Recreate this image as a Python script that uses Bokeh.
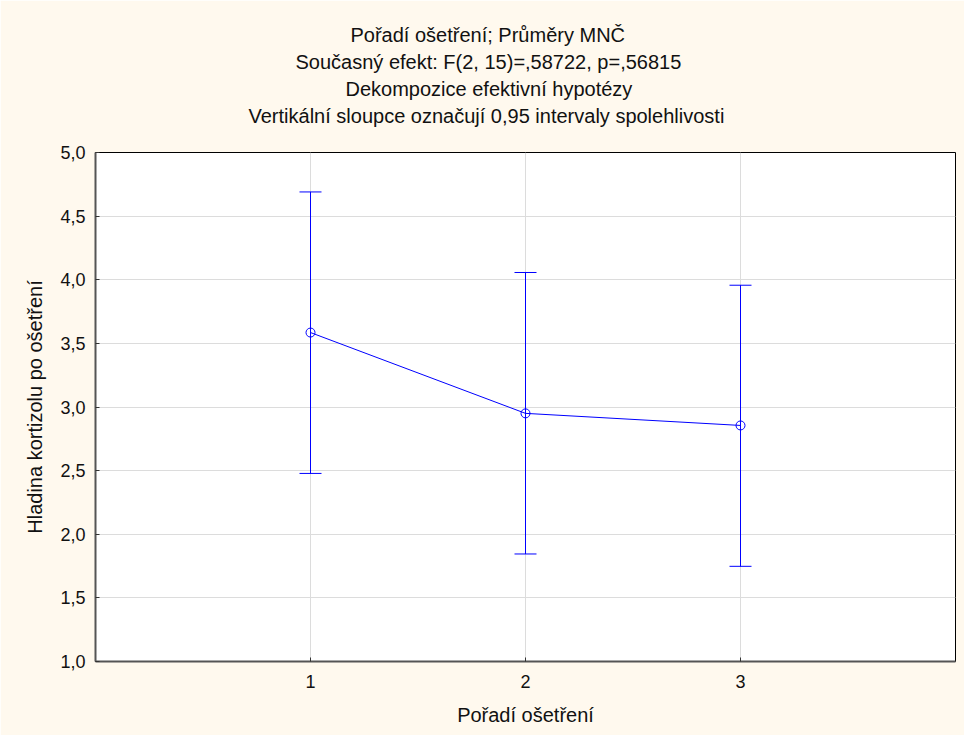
from bokeh.plotting import figure
from bokeh.models import Range1d, FixedTicker, Title, Whisker, ColumnDataSource, TeeHead
from bokeh.embed import file_html
from bokeh.resources import INLINE

# ---- data ----
treatment = [1, 2, 3]
means = [3.585, 2.950, 2.855]
upper = [4.690, 4.057, 3.957]
lower = [2.478, 1.845, 1.748]
y_ticks = [1.0, 1.5, 2.0, 2.5, 3.0, 3.5, 4.0, 4.5, 5.0]
y_tick_labels = ["1,0", "1,5", "2,0", "2,5", "3,0", "3,5", "4,0", "4,5", "5,0"]
x_ticks = [1, 2, 3]
title_lines = [
    "Pořadí ošetření; Průměry MNČ",
    "Současný efekt: F(2, 15)=,58722, p=,56815",
    "Dekompozice efektivní hypotézy",
    "Vertikální sloupce označují 0,95 intervaly spolehlivosti",
]
x_label = "Pořadí ošetření"
y_label = "Hladina kortizolu po ošetření"

# horizontal offsets (px from frame left) so the title lines are centred on the window
title_offsets = [255, 200, 250, 153]

FONT = "Liberation Sans"
BLUE = "#0000FF"
BG = "#FFF9EE"

p = figure(width=964, height=735, output_backend="svg", toolbar_location=None,
           x_range=Range1d(0, 4), y_range=Range1d(1, 5),
           min_border_left=95, min_border_right=9, min_border_top=152, min_border_bottom=74)
p.title = None
p.border_fill_color = BG
p.background_fill_color = "white"
p.outline_line_color = "black"
p.outline_line_width = 1

# spacer between the title block and the frame
p.add_layout(Title(text=" ", text_font_size="1px", standoff=21), "above")
# later-added titles are placed further from the frame
for line, off in zip(reversed(title_lines), reversed(title_offsets)):
    t = Title(text=line, align="left", offset=off, text_font=FONT,
              text_font_size="20px", text_font_style="normal", text_color="#111111",
              standoff=3)
    p.add_layout(t, "above")

src = ColumnDataSource(dict(x=treatment, m=means, up=upper, lo=lower))

w = Whisker(base="x", upper="up", lower="lo", source=src,
            line_color=BLUE, line_width=1,
            upper_head=TeeHead(size=22, line_color=BLUE, line_width=1),
            lower_head=TeeHead(size=22, line_color=BLUE, line_width=1))
p.add_layout(w)
p.segment(x0="x", y0="lo", x1="x", y1="up", source=src, line_color=BLUE, line_width=1)

p.line("x", "m", source=src, line_color=BLUE, line_width=1)
p.scatter("x", "m", source=src, marker="circle", size=9, fill_color=None,
          line_color=BLUE, line_width=1)

# axes
p.xaxis.ticker = FixedTicker(ticks=x_ticks)
p.yaxis.ticker = FixedTicker(ticks=y_ticks)
p.yaxis.major_label_overrides = {v: s for v, s in zip(y_ticks, y_tick_labels)}
p.xaxis.axis_label = x_label
p.yaxis.axis_label = y_label
for ax in (p.xaxis, p.yaxis):
    ax.axis_line_color = "#555555"
    ax.axis_line_width = 2
    ax.major_tick_in = 4
    ax.major_tick_out = 0
    ax.major_tick_line_color = "#333333"
    ax.minor_tick_line_color = None
    ax.major_label_text_font = FONT
    ax.major_label_text_font_size = "18px"
    ax.major_label_text_color = "#111111"
    ax.axis_label_text_font = FONT
    ax.axis_label_text_font_size = "20px"
    ax.axis_label_text_font_style = "normal"
    ax.axis_label_text_color = "#111111"
p.xaxis.major_label_standoff = 13
p.xaxis.axis_label_standoff = 13
p.yaxis.major_label_standoff = 10
p.yaxis.axis_label_standoff = 11

p.xgrid.grid_line_color = "#DCDCDC"
p.ygrid.grid_line_color = "#DCDCDC"
p.xgrid.grid_line_width = 1
p.ygrid.grid_line_width = 1

open("out.html", "w").write(file_html(p, INLINE))
